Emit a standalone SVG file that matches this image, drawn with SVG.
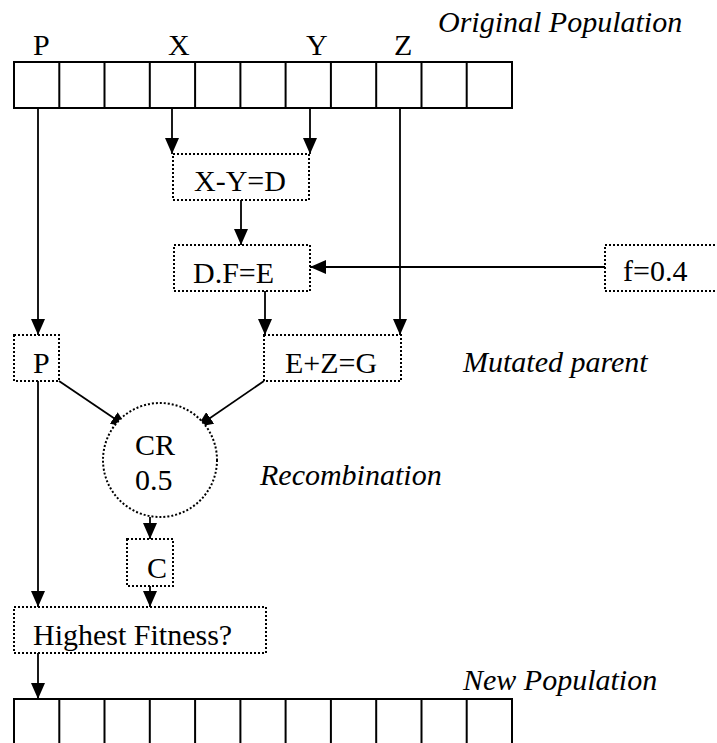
<svg xmlns="http://www.w3.org/2000/svg" width="717" height="743" viewBox="0 0 717 743">
<style>
text{font-family:'Liberation Serif','Times New Roman',serif;font-size:30px;fill:#000}
.it{font-style:italic}
.arr{fill:#fff;stroke:#000;stroke-width:2}
.cell{stroke:#000;stroke-width:2}
.box{fill:#fff;stroke:#000;stroke-width:2;stroke-dasharray:2 2}
.con{fill:none;stroke:#000;stroke-width:1.8}
.arrow{marker-end:url(#ah)}
</style>
<defs>
<marker id="ah" markerUnits="userSpaceOnUse" markerWidth="16" markerHeight="14" refX="16" refY="7" orient="auto" viewBox="0 0 16 14">
<path d="M0,0 L16,7 L0,14 Z" fill="#000"/>
</marker>
</defs>
<rect width="717" height="743" fill="#fff"/>

<g id="labels">
<text class="it" x="438" y="32">Original Population</text>
<text x="33" y="55">P</text>
<text x="168" y="55">X</text>
<text x="306" y="55">Y</text>
<text x="394" y="55">Z</text>
<text class="it" x="463" y="372">Mutated parent</text>
<text class="it" x="260" y="485">Recombination</text>
<text class="it" x="463" y="690">New Population</text>
</g>

<g id="original-population">
<rect class="arr" x="14" y="62" width="498" height="46"/>
<path class="cell" d="M59.3,62V108M104.5,62V108M149.8,62V108M195.1,62V108M240.4,62V108M285.6,62V108M330.9,62V108M376.2,62V108M421.5,62V108M466.7,62V108"/>
</g>

<g id="connectors">
<path class="con arrow" d="M38,108V335"/>
<path class="con arrow" d="M172,108V154"/>
<path class="con arrow" d="M310,108V154"/>
<path class="con arrow" d="M400,108V335"/>
<path class="con arrow" d="M241,200V245"/>
<path class="con arrow" d="M605,267H310"/>
<path class="con arrow" d="M265,291V335"/>
<path class="con arrow" d="M59,381L127,427"/>
<path class="con arrow" d="M264,381L197,427"/>
<path class="con arrow" d="M150,517V539"/>
<path class="con arrow" d="M150,586V607"/>
<path class="con arrow" d="M38,381V607"/>
<path class="con arrow" d="M38,653V699"/>
</g>

<g id="xyd">
<rect class="box" x="173" y="154" width="136" height="46"/>
<text x="194" y="191">X-Y=D</text>
</g>

<g id="dfe">
<rect class="box" x="174" y="245" width="136" height="46"/>
<text x="193" y="283">D.F=E</text>
</g>

<g id="f">
<rect class="box" x="605" y="245" width="130" height="46"/>
<text x="623" y="281">f=0.4</text>
</g>

<g id="p">
<rect class="box" x="14" y="335" width="45" height="46"/>
<text x="33" y="373">P</text>
</g>

<g id="ezg">
<rect class="box" x="264" y="335" width="137" height="46"/>
<text x="285" y="373">E+Z=G</text>
</g>

<g id="cr">
<circle class="box" cx="160" cy="460" r="57"/>
<text x="135" y="455">CR</text>
<text x="135" y="490">0.5</text>
</g>

<g id="c">
<rect class="box" x="127" y="539" width="46" height="47"/>
<text x="147" y="578">C</text>
</g>

<g id="fitness">
<rect class="box" x="14" y="607" width="252" height="46"/>
<text x="33" y="645">Highest Fitness?</text>
</g>

<g id="new-population">
<rect class="arr" x="14" y="699" width="498" height="60"/>
<path class="cell" d="M59.3,699V743M104.5,699V743M149.8,699V743M195.1,699V743M240.4,699V743M285.6,699V743M330.9,699V743M376.2,699V743M421.5,699V743M466.7,699V743"/>
</g>
</svg>
